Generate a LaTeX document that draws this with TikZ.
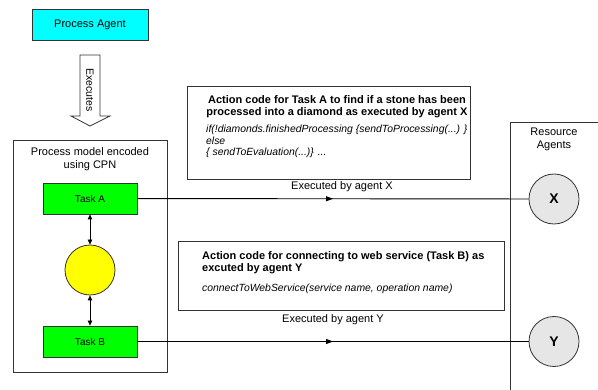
\documentclass[tikz,border=0pt]{standalone}
\usepackage{fontspec}
\setmainfont{Liberation Sans}
\usetikzlibrary{arrows.meta,decorations.markings}
\definecolor{agentcyan}{RGB}{0,255,255}
\definecolor{taskgreen}{RGB}{0,255,0}
\definecolor{placeyellow}{RGB}{255,255,0}
\definecolor{agentgrey}{RGB}{230,230,230}
\begin{document}
\begin{tikzpicture}[x=1pt,y=-1pt,
  frame/.style={draw=black!80, line width=0.8pt},
  reg/.style={font=\fontsize{11}{13}\selectfont, inner sep=0pt},
  boldtxt/.style={font=\bfseries\fontsize{11}{12.5}\selectfont, inner sep=0pt},
  ittxt/.style={font=\itshape\fontsize{10.4}{11.5}\selectfont, inner sep=0pt, align=left},
  taskbox/.style={frame, fill=taskgreen, minimum width=94pt, minimum height=31pt, inner sep=0pt, font=\fontsize{10}{12}\selectfont},
  agent/.style={circle, frame, fill=agentgrey, minimum size=50pt, inner sep=0pt, font=\bfseries\fontsize{14}{16}\selectfont},
  conn/.style={draw=black, line width=0.9pt},
  midarrow/.style={postaction={decorate}, decoration={markings, mark=at position 0.5 with {\arrow{Triangle[length=7pt,width=5pt]}}}},
  duo/.style={conn, line width=0.8pt, {Triangle[length=5pt,width=4.5pt]}-{Triangle[length=5pt,width=4.5pt]}}
]
\useasboundingbox (0,0) rectangle (598,390);

% Process agent
\node[frame, fill=agentcyan, minimum width=116pt, minimum height=31pt, reg] (pa) at (90,24.5) {Process Agent};

% Executes block arrow
\draw[frame, fill=white] (80,55) -- (100,55) -- (100,116) -- (110,116) -- (90,126) -- (71,116) -- (80,116) -- cycle;
\node[reg, rotate=-90, font=\fontsize{10.5}{12}\selectfont] (ex) at (90,90) {Executes};

% CPN box
\node[frame, minimum width=154pt, minimum height=232pt, inner sep=0pt] (cpn) at (90,256) {};
\node[reg, align=center] (cpnt) at (90,159) {Process model encoded\\using CPN};

\node[taskbox] (ta) at (90,198.5) {Task A};
\node[taskbox] (tb) at (90,341.5) {Task B};
\node[circle, frame, fill=placeyellow, minimum size=50pt, inner sep=0pt] (pl) at (90,270) {};
\draw[duo] (ta) -- (pl);
\draw[duo] (pl) -- (tb);

% Action code box A
\node[frame, minimum width=283pt, minimum height=93pt, inner sep=0pt] (boxa) at (328.5,132.5) {};
\node[boldtxt, align=center] (boxat) at (337,106.5) {Action code for Task A to find if a stone has been\\processed into a diamond as executed by agent X};
\node[ittxt, anchor=west] (boxac) at (206,141.5) {if(!diamonds.finishedProcessing \{sendToProcessing(...) \}\\else\\\{ sendToEvaluation(...)\} ...};

% Action code box B
\node[frame, minimum width=326pt, minimum height=69pt, inner sep=0pt] (boxb) at (341,276) {};
\node[boldtxt, align=left, anchor=west] (boxbt) at (202,262.5) {Action code for connecting to web service (Task B) as\\excuted by agent Y};
\node[ittxt, anchor=west] (boxbc) at (202,289) {connectToWebService(service name, operation name)};

% Resource agents
\draw[frame] (598,122) -| (510,390);
\node[reg, align=center] (ra) at (554,139.5) {Resource\\Agents};
\node[agent] (X) at (554,199) {X};
\node[agent] (Y) at (554,341.5) {Y};

% Connectors
\draw[conn, midarrow] (ta) -- (X);
\draw[conn, midarrow] (tb) -- (Y);
\node[reg] (lx) at (342,187) {Executed by agent X};
\node[reg] (ly) at (333,320) {Executed by agent Y};
\end{tikzpicture}
\end{document}
